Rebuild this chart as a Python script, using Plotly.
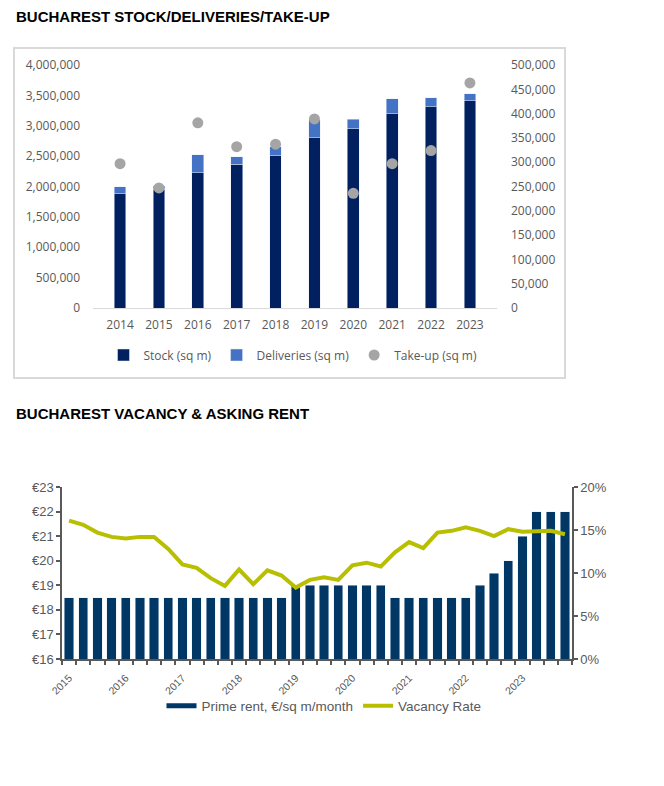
import plotly.graph_objects as go

W, H = 664, 786
OFF = 8  # page body margin

# ---------- Top chart data ----------
years = ["2014", "2015", "2016", "2017", "2018", "2019", "2020", "2021", "2022", "2023"]
stock = [1880000, 1945000, 2230000, 2367000, 2510000, 2800000, 2953000, 3195000, 3315000, 3414000]
deliveries = [115000, 66000, 290000, 121000, 142000, 296000, 154000, 246000, 143000, 115000]
take_up = [297000, 247000, 381000, 332000, 337000, 389000, 236000, 297000, 324000, 463000]

# ---------- Bottom chart data ----------
quarter_years = [2015, 2016, 2017, 2018, 2019, 2020, 2021, 2022, 2023]
quarters = [f"{y} Q{q}" for y in quarter_years for q in range(1, 5)]
prime_rent = [18.5] * 16 + [19.0] * 7 + [18.5] * 6 + [19.0, 19.5, 20.0, 21.0, 22.0, 22.0, 22.0]
vacancy = [16.1, 15.6, 14.7, 14.2, 14.0, 14.2, 14.2, 12.8, 11.0, 10.6, 9.4, 8.5,
           10.4, 8.7, 10.3, 9.7, 8.3, 9.2, 9.5, 9.2, 10.9, 11.2, 10.75, 12.4,
           13.6, 12.9, 14.7, 14.9, 15.3, 14.9, 14.3, 15.1, 14.8, 14.8, 14.9, 14.5]
year_tick_labels = [str(y) for y in quarter_years]


def px(x):
    return (x - OFF) / W


def py(y):
    return 1 - (y - OFF) / H


GRAY = "#595959"
TOPFONT = "Open Sans, Noto Sans, sans-serif"
BOTFONT = "Liberation Sans, Arial, sans-serif"

fig = go.Figure()

# Top chart traces
fig.add_trace(go.Bar(x=years, y=stock, name="Stock (sq m)", marker_color="#002060",
                     width=0.3, xaxis="x", yaxis="y", legend="legend"))
fig.add_trace(go.Bar(x=years, y=deliveries, name="Deliveries (sq m)", marker_color="#4472c4",
                     width=0.3, xaxis="x", yaxis="y", legend="legend"))
fig.add_trace(go.Scatter(x=years, y=take_up, name="Take-up (sq m)", mode="markers",
                         marker=dict(color="#a5a5a5", size=11), xaxis="x", yaxis="y2",
                         legend="legend"))

# Bottom chart traces
qx = list(range(len(quarters)))
fig.add_trace(go.Bar(x=qx, y=prime_rent, name="Prime rent, €/sq m/month", marker_color="#003764",
                     width=0.66, xaxis="x2", yaxis="y3", showlegend=False,
                     hovertext=quarters))
fig.add_trace(go.Scatter(x=[None], y=[None], name="Prime rent, €/sq m/month", mode="lines",
                         line=dict(color="#003764", width=5), xaxis="x2", yaxis="y3",
                         legend="legend2"))
fig.add_trace(go.Scatter(x=qx, y=vacancy, name="Vacancy Rate", mode="lines",
                         line=dict(color="#b8bf00", width=4), xaxis="x2", yaxis="y4",
                         legend="legend2", hovertext=quarters))

fig.update_layout(
    width=W, height=H,
    margin=dict(l=0, r=0, t=0, b=0, autoexpand=False),
    paper_bgcolor="white", plot_bgcolor="white",
    barmode="stack",
    showlegend=True,
    xaxis=dict(domain=[px(93), px(497)], anchor="y", type="category", automargin=False,
               showline=True, linecolor="#d9d9d9", linewidth=1, ticks="",
               ticklabelstandoff=6,
               tickfont=dict(family=TOPFONT, size=12, color=GRAY), showgrid=False),
    yaxis=dict(domain=[py(308), py(65)], anchor="x", range=[0, 4000000], dtick=500000,
               tickformat=",d", showgrid=False, zeroline=False, ticks="", automargin=False,
               ticklabelstandoff=12,
               tickfont=dict(family=TOPFONT, size=12, color=GRAY)),
    yaxis2=dict(overlaying="y", side="right", anchor="x", range=[0, 500000], dtick=50000,
                tickformat=",d", showgrid=False, zeroline=False, ticks="", automargin=False,
                ticklabelstandoff=13,
                tickfont=dict(family=TOPFONT, size=12, color=GRAY)),
    xaxis2=dict(domain=[px(62), px(572)], anchor="y3", range=[-0.5, 35.5], automargin=False,
                tickmode="array", tickvals=[i * 4 for i in range(len(year_tick_labels))],
                ticktext=year_tick_labels, tickangle=-45, ticks="",
                ticklabelstandoff=7,
                showline=True, linecolor=GRAY, linewidth=1.5, showgrid=False, zeroline=False,
                minor=dict(tick0=-0.5, dtick=1, ticks="outside", ticklen=4,
                           tickcolor=GRAY, tickwidth=1.5, showgrid=False),
                tickfont=dict(family=BOTFONT, size=10.5, color=GRAY)),
    yaxis3=dict(domain=[py(659), py(487)], anchor="x2", range=[16, 23], dtick=1,
                tickprefix="€", showline=True, linecolor=GRAY, linewidth=1.5, automargin=False,
                ticks="outside", ticklen=4, tickcolor=GRAY, tickwidth=1.5,
                showgrid=False, zeroline=False,
                tickfont=dict(family=BOTFONT, size=13, color=GRAY)),
    yaxis4=dict(overlaying="y3", side="right", anchor="x2", range=[0, 20], dtick=5,
                ticksuffix="%", showline=True, linecolor=GRAY, linewidth=1.5, automargin=False,
                ticks="outside", ticklen=4, tickcolor=GRAY, tickwidth=1.5,
                showgrid=False, zeroline=False,
                tickfont=dict(family=BOTFONT, size=13, color=GRAY)),
    legend=dict(orientation="h", x=px(293), xanchor="center", y=py(355), yanchor="middle",
                font=dict(family=TOPFONT, size=12, color=GRAY), bgcolor="rgba(0,0,0,0)",
                traceorder="normal"),
    legend2=dict(orientation="h", x=px(324), xanchor="center", y=py(706), yanchor="middle",
                 font=dict(family=BOTFONT, size=13.5, color=GRAY), bgcolor="rgba(0,0,0,0)",
                 traceorder="normal"),
    shapes=[dict(type="rect", xref="paper", yref="paper", x0=px(14), x1=px(565),
                 y0=py(378), y1=py(48), line=dict(color="#d9d9d9", width=2), layer="below")],
    annotations=[
        dict(text="<b>BUCHAREST STOCK/DELIVERIES/TAKE-UP</b>", xref="paper", yref="paper",
             x=px(14), y=py(17), xanchor="left", yanchor="middle", showarrow=False,
             font=dict(family=BOTFONT, size=15, color="black")),
        dict(text="<b>BUCHAREST VACANCY & ASKING RENT</b>", xref="paper", yref="paper",
             x=px(14), y=py(413), xanchor="left", yanchor="middle", showarrow=False,
             font=dict(family=BOTFONT, size=15, color="black")),
    ],
)

fig.write_html("out.html")
